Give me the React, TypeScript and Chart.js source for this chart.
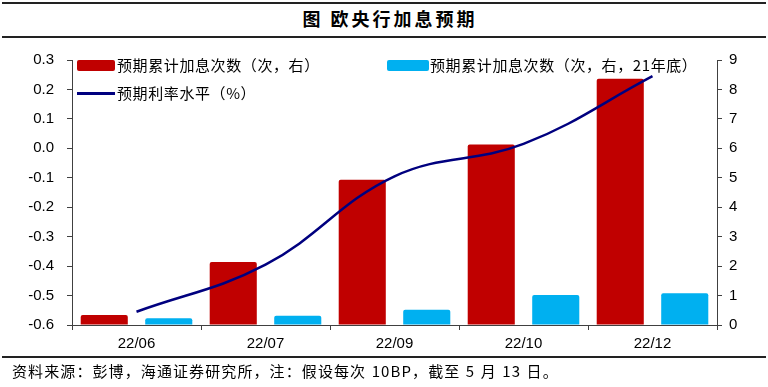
import React, { useEffect, useRef } from "react";
import { Chart, registerables } from "chart.js";

Chart.register(...registerables);

const categories = ["22/06", "22/07", "22/09", "22/10", "22/12"];
const hikesExpected = [0.34, 2.14, 4.93, 6.13, 8.36];
const hikesExpected21 = [0.23, 0.31, 0.52, 1.02, 1.08];
const rateExpected = [-0.555, -0.395, -0.095, 0.015, 0.245];

const leftTicks = [-0.6, -0.5, -0.4, -0.3, -0.2, -0.1, 0.0, 0.1, 0.2, 0.3];
const rightTicks = [0, 1, 2, 3, 4, 5, 6, 7, 8, 9];

const title = "图 欧央行加息预期";
const labelHikes = "预期累计加息次数（次，右）";
const labelHikes21 = "预期累计加息次数（次，右，21年底）";
const labelRate = "预期利率水平（%）";
const source = "资料来源：彭博，海通证券研究所，注：假设每次 10BP，截至 5 月 13 日。";

const RED = "#C00000";
const BLUE = "#00B0F0";
const NAVY = "#00007F";
const AXIS = "#404040";
const CJK = '"Noto Sans CJK SC", "Noto Sans", sans-serif';
const LATIN = '"Liberation Sans", Arial, sans-serif';

export default function App() {
  const canvasRef = useRef<HTMLCanvasElement | null>(null);

  useEffect(() => {
    const canvas = canvasRef.current;
    if (!canvas) return;
    const chart = new Chart(canvas, {
      type: "bar",
      data: {
        labels: categories,
        datasets: [
          {
            type: "line",
            label: labelRate,
            data: rateExpected,
            yAxisID: "y",
            borderColor: NAVY,
            backgroundColor: NAVY,
            borderWidth: 2.5,
            pointRadius: 0,
            tension: 0.4,
            order: 0,
          },
          {
            type: "bar",
            label: labelHikes,
            data: hikesExpected,
            yAxisID: "y1",
            backgroundColor: RED,
            borderRadius: 2,
            borderSkipped: "bottom",
            categoryPercentage: 1.0,
            barPercentage: 0.73,
            order: 1,
          },
          {
            type: "bar",
            label: labelHikes21,
            data: hikesExpected21,
            yAxisID: "y1",
            backgroundColor: BLUE,
            borderRadius: 2,
            borderSkipped: "bottom",
            categoryPercentage: 1.0,
            barPercentage: 0.73,
            order: 1,
          },
        ],
      },
      options: {
        animation: false,
        responsive: false,
        maintainAspectRatio: false,
        layout: { padding: { left: 0, right: 0, top: 60, bottom: 30 } },
        plugins: {
          legend: { display: false },
          title: { display: false },
          tooltip: { enabled: false },
        },
        scales: {
          x: {
            offset: true,
            grid: {
              display: true,
              offset: true,
              drawOnChartArea: false,
              drawTicks: true,
              tickLength: 5,
              color: AXIS,
            },
            border: { display: true, color: AXIS, width: 1 },
            ticks: {
              color: "#000",
              font: { family: LATIN, size: 15 },
              padding: 5,
              maxRotation: 0,
            },
            afterFit: (s: any) => {
              s.height = 32;
            },
          },
          y: {
            position: "left",
            min: -0.6,
            max: 0.3,
            afterBuildTicks: (s: any) => {
              s.ticks = leftTicks.map((v) => ({ value: v }));
            },
            grid: {
              display: true,
              drawOnChartArea: false,
              drawTicks: true,
              tickLength: 5,
              color: AXIS,
            },
            border: { display: true, color: AXIS, width: 1 },
            ticks: {
              color: "#000",
              font: { family: LATIN, size: 15 },
              padding: 13,
              callback: (v: any) => Number(v).toFixed(1),
            },
            afterFit: (s: any) => {
              s.width = 72;
            },
          },
          y1: {
            position: "right",
            min: 0,
            max: 9,
            afterBuildTicks: (s: any) => {
              s.ticks = rightTicks.map((v) => ({ value: v }));
            },
            grid: {
              display: true,
              drawOnChartArea: false,
              drawTicks: true,
              tickLength: 5,
              color: AXIS,
            },
            border: { display: true, color: AXIS, width: 1 },
            ticks: {
              color: "#000",
              font: { family: LATIN, size: 15 },
              padding: 7,
              callback: (v: any) => String(v),
            },
            afterFit: (s: any) => {
              s.width = 51;
            },
          },
        },
      },
    });
    return () => chart.destroy();
  }, []);

  const hr = (top: number): React.CSSProperties => ({
    position: "absolute",
    left: 2,
    width: 764,
    top,
    height: 2,
    background: "#222",
  });

  const legendText: React.CSSProperties = {
    position: "absolute",
    fontFamily: CJK,
    fontSize: 15,
    lineHeight: "18px",
    letterSpacing: 0.6,
    color: "#000",
    whiteSpace: "nowrap",
  };

  return (
    <div
      style={{
        position: "absolute",
        left: 0,
        top: 0,
        width: 768,
        height: 387,
        background: "#fff",
        overflow: "hidden",
      }}
    >
      <div style={hr(2)} />
      <div
        style={{
          position: "absolute",
          left: 0,
          width: 768,
          top: 7,
          textAlign: "center",
          fontFamily: CJK,
          fontWeight: 700,
          fontSize: 18,
          lineHeight: "22px",
          letterSpacing: 3,
          whiteSpace: "pre",
          color: "#000",
          paddingLeft: 6,
        }}
      >
        {title}
      </div>
      <div style={hr(36)} />
      <canvas
        ref={canvasRef}
        width={768}
        height={387}
        style={{ position: "absolute", left: 0, top: 0, width: 768, height: 387 }}
      />
      <div
        style={{
          position: "absolute",
          left: 77,
          top: 60,
          width: 38,
          height: 11,
          background: RED,
          borderRadius: 2,
        }}
      />
      <div style={{ ...legendText, left: 117, top: 56 }}>{labelHikes}</div>
      <div
        style={{
          position: "absolute",
          left: 387,
          top: 60,
          width: 42,
          height: 11,
          background: BLUE,
          borderRadius: 2,
        }}
      />
      <div style={{ ...legendText, left: 430, top: 56 }}>{labelHikes21}</div>
      <div
        style={{
          position: "absolute",
          left: 77,
          top: 92,
          width: 38,
          height: 2.5,
          background: NAVY,
        }}
      />
      <div style={{ ...legendText, left: 117, top: 84 }}>{labelRate}</div>
      <div style={hr(356)} />
      <div
        style={{
          ...legendText,
          left: 12,
          top: 362,
          fontSize: 15,
          letterSpacing: 1.1,
          wordSpacing: 1,
        }}
      >
        {source}
      </div>
    </div>
  );
}
